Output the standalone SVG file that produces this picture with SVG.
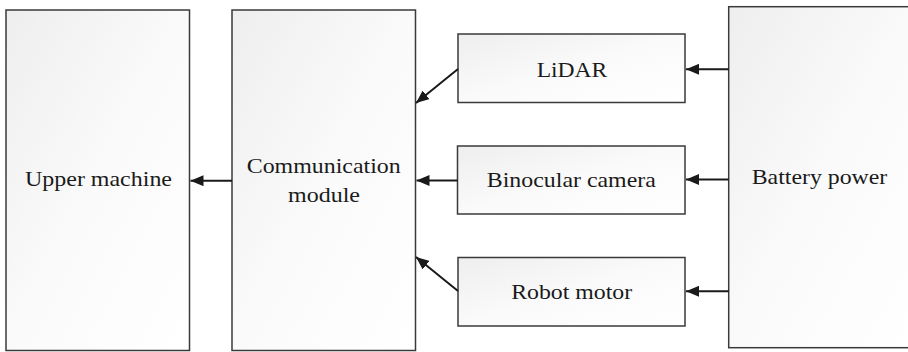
<svg xmlns="http://www.w3.org/2000/svg" width="908" height="352" viewBox="0 0 908 352">
<style>
.box{stroke:#3a3a3a;stroke-width:1.5}
.lbl{font-family:"Liberation Serif","Times New Roman",serif;font-size:21px;fill:#1a1a1a;text-anchor:middle}
.con{stroke:#1a1a1a;stroke-width:2;fill:none;marker-end:url(#ah)}
</style>
<defs>
<linearGradient id="g" x1="0" y1="0" x2="1" y2="1">
<stop offset="0" stop-color="#eeeeee"/>
<stop offset="0.5" stop-color="#fafafa"/>
<stop offset="1" stop-color="#ffffff"/>
</linearGradient>
<marker id="ah" viewBox="0 0 13 11" refX="13" refY="5.5" markerWidth="13" markerHeight="11" markerUnits="userSpaceOnUse" orient="auto">
<path d="M0,0 L13,5.5 L0,11 Z" fill="#1a1a1a"/>
</marker>
</defs>
<g id="upper-machine">
<rect class="box" x="6" y="10" width="183.5" height="340.5" fill="url(#g)"/>
<text class="lbl" x="98.5" y="186.3" textLength="147" lengthAdjust="spacingAndGlyphs">Upper machine</text>
</g>
<g id="communication-module">
<rect class="box" x="232" y="10" width="183.5" height="340.5" fill="url(#g)"/>
<text class="lbl" x="323.7" y="173" textLength="154" lengthAdjust="spacingAndGlyphs">Communication</text>
<text class="lbl" x="324" y="202" textLength="72" lengthAdjust="spacingAndGlyphs">module</text>
</g>
<g id="lidar">
<rect class="box" x="458" y="34" width="227" height="68.5" fill="url(#g)"/>
<text class="lbl" x="572" y="76.7" textLength="70.6" lengthAdjust="spacingAndGlyphs">LiDAR</text>
</g>
<g id="binocular-camera">
<rect class="box" x="457.5" y="146" width="227.5" height="68" fill="url(#g)"/>
<text class="lbl" x="571.3" y="186.7" textLength="169" lengthAdjust="spacingAndGlyphs">Binocular camera</text>
</g>
<g id="robot-motor">
<rect class="box" x="458" y="257.5" width="227" height="68.5" fill="url(#g)"/>
<text class="lbl" x="571.7" y="299.3" textLength="121" lengthAdjust="spacingAndGlyphs">Robot motor</text>
</g>
<g id="battery-power">
<rect class="box" x="728.7" y="6.7" width="190" height="341" fill="url(#g)"/>
<text class="lbl" x="819.5" y="184.3" textLength="135.6" lengthAdjust="spacingAndGlyphs">Battery power</text>
</g>
<g id="connectors">
<line class="con" x1="232" y1="180.7" x2="190.5" y2="180.7"/>
<line class="con" x1="457.5" y1="180.5" x2="416.5" y2="180.5"/>
<line class="con" x1="458" y1="69" x2="416" y2="103"/>
<line class="con" x1="458" y1="291" x2="416" y2="257"/>
<line class="con" x1="728.7" y1="69.3" x2="686" y2="69.3"/>
<line class="con" x1="728.7" y1="179.5" x2="686" y2="179.5"/>
<line class="con" x1="728.7" y1="291.3" x2="686" y2="291.3"/>
</g>
</svg>
